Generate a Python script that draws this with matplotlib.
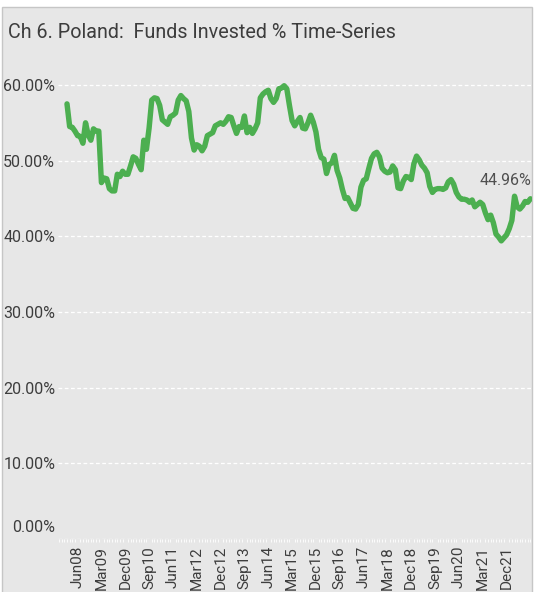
import numpy as np
import pandas as pd
import matplotlib
matplotlib.use("Agg")
import matplotlib.pyplot as plt
import matplotlib.transforms as mtransforms
from matplotlib.patches import Rectangle
from matplotlib.ticker import MultipleLocator

# monthly series, Feb 2008 .. Sep 2022 (% of funds invested)
start_month = "2008-02"
funds_invested = [
    57.5, 54.5, 54.4, 53.9, 53.3, 53.2, 52.3, 55.0, 53.4, 52.7,
    54.2, 53.9, 53.9, 47.1, 47.7, 47.6, 46.3, 46.0, 46.0, 48.2,
    47.9, 48.6, 48.2, 48.2, 49.3, 50.5, 50.3, 49.5, 48.8, 52.7,
    51.5, 54.3, 58.0, 58.3, 58.2, 57.3, 55.4, 55.1, 54.8, 55.8,
    56.0, 56.3, 58.0, 58.6, 58.2, 57.9, 56.5, 53.0, 51.4, 52.1,
    51.9, 51.3, 51.9, 53.3, 53.5, 53.7, 54.6, 54.8, 55.0, 54.8,
    55.2, 55.8, 55.7, 54.6, 53.6, 54.5, 54.4, 55.9, 53.7, 54.4,
    53.6, 54.2, 55.0, 58.3, 58.8, 59.1, 59.3, 58.2, 57.7, 58.2,
    59.5, 59.6, 59.9, 59.5, 57.3, 55.3, 54.6, 55.2, 55.7, 54.3,
    54.2, 55.0, 56.0, 55.1, 53.8, 51.5, 50.4, 50.2, 48.3, 49.5,
    49.7, 50.7, 48.7, 47.7, 46.2, 45.0, 45.1, 44.4, 43.7, 43.6,
    44.2, 46.5, 47.4, 47.6, 49.0, 50.3, 50.9, 51.1, 50.5, 49.0,
    48.6, 48.4, 48.5, 49.3, 48.8, 46.4, 46.3, 47.3, 47.9, 47.8,
    47.5, 49.6, 50.6, 50.1, 49.4, 49.0, 48.4, 46.6, 45.8, 46.2,
    46.3, 46.3, 46.2, 46.4, 47.2, 47.5, 46.9, 45.8, 45.2, 44.9,
    44.9, 44.8, 44.5, 44.8, 43.9, 44.2, 44.5, 44.2, 43.1, 42.2,
    42.8, 41.8, 40.3, 39.9, 39.4, 39.8, 40.2, 41.0, 42.1, 45.3,
    43.9, 43.6, 44.0, 44.6, 44.5, 44.96,
]
tick_labels = ["Jun08", "Mar09", "Dec09", "Sep10", "Jun11", "Mar12", "Dec12",
               "Sep13", "Jun14", "Mar15", "Dec15", "Sep16", "Jun17", "Mar18",
               "Dec18", "Sep19", "Jun20", "Mar21", "Dec21"]
y_ticks = [0, 10, 20, 30, 40, 50, 60]

FONT = ["Roboto", "DejaVu Sans"]
TXT = "#3d3d3d"
GREEN = "#4caf50"
BG = "#e7e7e7"

plt.rcParams["font.family"] = FONT

months = pd.period_range(start_month, periods=len(funds_invested), freq="M")
x = np.arange(len(months))
tick_pos = [months.get_loc(pd.Period(pd.to_datetime(t, format="%b%y"), "M")) for t in tick_labels]

fig = plt.figure(figsize=(5.36, 5.92), dpi=100, facecolor="white")
fig.patches.append(Rectangle((2 / 536, -0.02), 530 / 536, 1.02 - 7 / 592,
                             transform=fig.transFigure, facecolor=BG,
                             edgecolor="#c6c6c6", linewidth=1.0, zorder=-5))

ax = fig.add_axes([58 / 536, 1 - 539 / 592, 474 / 536, 0.8053])
ax.set_zorder(2)
ax.set_facecolor("none")
ax.plot(x, funds_invested, color=GREEN, linewidth=3.9, solid_joinstyle="round",
        solid_capstyle="round", zorder=3)

ax.set_xlim(-3.4, 175.6)
ax.set_ylim(0, 63)
ax.set_yticks(y_ticks)
ax.set_yticklabels([f"{v:.2f}%" for v in y_ticks])
ax.set_xticks(tick_pos)
ax.set_xticklabels(tick_labels, rotation=90)
ax.xaxis.set_minor_locator(MultipleLocator(1))

ax.grid(axis="y", color="white", linestyle=(0, (3, 2)), linewidth=0.9, zorder=1)
for s in ax.spines.values():
    s.set_visible(False)
ax.tick_params(axis="y", length=0, pad=2, labelsize=11.5, labelcolor=TXT)
ax.tick_params(axis="x", which="major", length=0, pad=5, labelsize=11, labelcolor=TXT)
ax.tick_params(axis="x", which="minor", length=2, width=0.6, color="white", direction="out")

# the 0% label sits a little above the axis line, clear of the date labels
zero_lbl = ax.get_yticklabels()[0]
zero_lbl.set_transform(zero_lbl.get_transform() +
                       mtransforms.ScaledTranslation(0, 0.13, fig.dpi_scale_trans))

last = funds_invested[-1]
ax.annotate(f"{last:.2f}%", xy=(x[-1], last), xytext=(1, 13), textcoords="offset points",
            ha="right", va="center", fontsize=11.5, color="#505050")

fig.text(8 / 536, 1 - 32 / 592, "Ch 6. Poland:  Funds Invested % Time-Series",
         ha="left", va="center", fontsize=14.2, color=TXT)

fig.savefig("out.png", dpi=100, facecolor=fig.get_facecolor())
